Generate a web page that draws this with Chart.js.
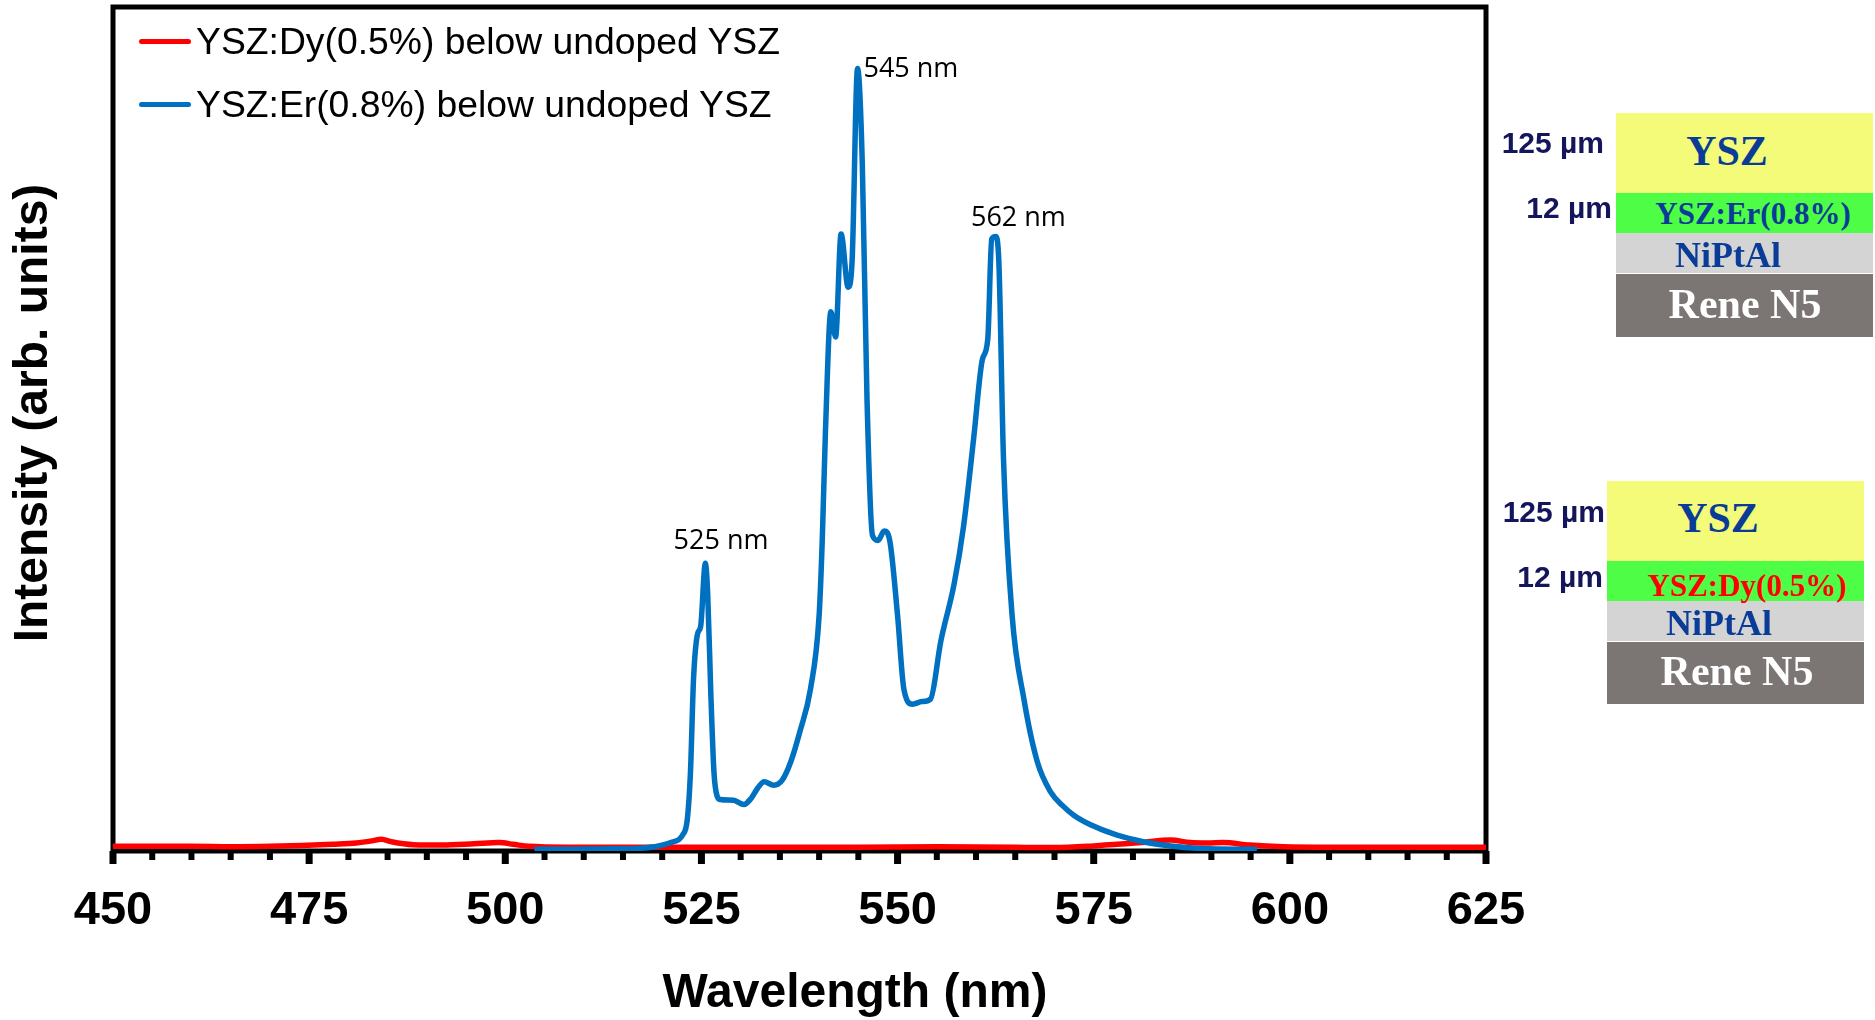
<!DOCTYPE html>
<html>
<head>
<meta charset="utf-8">
<title>YSZ luminescence spectra</title>
<script src="https://cdn.jsdelivr.net/npm/chart.js@4.4.1/dist/chart.umd.min.js"></script>
<style>
    body { margin: 0; background: #fff; }
    #wrap { position: relative; width: 1875px; height: 1020px; overflow: hidden; }
    #wrap canvas { position: absolute; left: 0; top: 0; }
    .legend-row {
        position: absolute; left: 139px; height: 40px;
        display: flex; align-items: center;
        font: 37.3px "Liberation Sans", Arial, sans-serif; color: #000;
        white-space: nowrap;
    }
    .legend-line { width: 52px; height: 5px; border-radius: 3px; margin-right: 5px; }
    .box { position: absolute; }
    .c, .r {
        position: absolute; white-space: nowrap; line-height: 1;
        font-family: "Liberation Serif", "Times New Roman", serif; font-weight: bold;
    }
    .c { transform: translate(-50%, -50%); }
    .r { transform: translate(-100%, -50%); font-family: "Liberation Sans", Arial, sans-serif; font-size: 30px; color: #15155c; }
    .blue { color: #0a3b96; }
</style>
</head>
<body>
<div id="wrap">
    <canvas id="spectrum" width="1875" height="1020"></canvas>

    <!-- legend is filled in from the datasets -->
    <div id="legend"></div>

    <!-- coating stack, Er doped -->
    <div class="box" style="left:1616px; top:113px; width:257px; height:80px; background:#f3fb78;"></div>
    <div class="box" style="left:1616px; top:193px; width:257px; height:40px; background:#4dfd46;"></div>
    <div class="box" style="left:1616px; top:233px; width:257px; height:40px; background:#d4d4d4;"></div>
    <div class="box" style="left:1616px; top:274px; width:257px; height:63px; background:#7b7574;"></div>
    <div class="c blue" style="left:1727px; top:151px; font-size:42px;">YSZ</div>
    <div class="c blue" style="left:1753px; top:213px; font-size:31px;">YSZ:Er(0.8%)</div>
    <div class="c blue" style="left:1728px; top:255px; font-size:36px;">NiPtAl</div>
    <div class="c" style="left:1745px; top:304px; font-size:42px; color:#fff;">Rene N5</div>
    <div class="r" style="left:1604px; top:143px;">125 µm</div>
    <div class="r" style="left:1612px; top:208px;">12 µm</div>

    <!-- coating stack, Dy doped -->
    <div class="box" style="left:1607px; top:481px; width:257px; height:80px; background:#f3fb78;"></div>
    <div class="box" style="left:1607px; top:561px; width:257px; height:40px; background:#4dfd46;"></div>
    <div class="box" style="left:1607px; top:601px; width:257px; height:40px; background:#d4d4d4;"></div>
    <div class="box" style="left:1607px; top:642px; width:257px; height:62px; background:#7b7574;"></div>
    <div class="c blue" style="left:1718px; top:518px; font-size:42px;">YSZ</div>
    <div class="c" style="left:1747px; top:585px; font-size:31px; color:#ff0000;">YSZ:Dy(0.5%)</div>
    <div class="c blue" style="left:1719px; top:623px; font-size:36px;">NiPtAl</div>
    <div class="c" style="left:1737px; top:671px; font-size:42px; color:#fff;">Rene N5</div>
    <div class="r" style="left:1605px; top:512px;">125 µm</div>
    <div class="r" style="left:1603px; top:577px;">12 µm</div>
</div>

<script>
// Series data (wavelength in nm, intensity in arb. units, 100 = top of frame)
const dyLabel = 'YSZ:Dy(0.5%) below undoped YSZ';
const dyWavelength = [450, 455, 460, 465, 470, 474, 478, 481, 483, 484.2, 485.5, 488.3, 492, 496, 499.2, 501, 503,
    508, 515, 525, 535, 545, 555, 565, 570, 575, 578, 581, 584.8, 587.3, 589.5, 591.5, 594.9, 599.2, 605, 615, 625];
const dyIntensity = [0.55, 0.55, 0.55, 0.5, 0.55, 0.65, 0.8, 0.95, 1.2, 1.4, 1.1, 0.75, 0.7, 0.85, 1.0, 0.8, 0.55,
    0.45, 0.45, 0.45, 0.45, 0.45, 0.5, 0.45, 0.4, 0.6, 0.8, 1.0, 1.3, 1.0, 0.95, 1.0, 0.7, 0.5, 0.45, 0.45, 0.45];

const erLabel = 'YSZ:Er(0.8%) below undoped YSZ';
const erWavelength = [503.7, 508, 512, 516.7, 519, 521.1, 522.6, 523.2, 523.6, 524.0, 524.5, 524.9, 525.5, 525.8,
    526.2, 526.6, 527.0, 527.4, 529.1, 530.4, 531.3, 532.2, 533.0, 534.2, 535.3, 536.4, 537.6, 538.9, 540.0,
    540.4, 540.8, 541.5, 542.1, 542.8, 543.7, 544.2, 544.9, 545.5, 546.1, 546.8, 547.5, 548.3, 549.0, 550.0,
    550.8, 551.9, 553.1, 554.2, 555.5, 557.2, 558.4, 559.7, 560.8, 561.5, 562.0, 562.5, 562.9, 563.5, 564.6,
    566.1, 567.8, 569.5, 571.0, 572.5, 574.6, 577.9, 581.3, 584.8, 588.6, 595.8];
const erIntensity = [0.2, 0.2, 0.25, 0.3, 0.5, 1.0, 1.9, 3.75, 9.3, 20.5, 25.7, 26.6, 34.1, 30.4,
    18.6, 9.3, 6.5, 6.1, 6.0, 5.5, 6.2, 7.5, 8.2, 7.8, 8.4, 10.6, 14.3, 19.2, 27.9,
    36.8, 49.5, 63.9, 60.9, 73.1, 66.8, 69.8, 92.7, 81.6, 53.7, 37.4, 36.8, 37.9, 36.8, 27.9,
    19.2, 17.4, 17.7, 18.0, 24.8, 31.6, 38.4, 48.9, 58.2, 60.7, 72.5, 72.8, 70.0, 46.5, 27.9,
    18.0, 10.6, 7.0, 5.4, 4.2, 3.1, 1.9, 1.1, 0.6, 0.3, 0.2];

// Peak annotations (data coordinates of the label centre)
const peakText = ['525 nm', '545 nm', '562 nm'];
const peakTextX = [527.5, 551.7, 565.4];
const peakTextY = [36.7, 92.6, 75.0];

const xMin = 450;
const xMax = 625;
const xMajorStep = 25;
const xMinorStep = 5;

const toPoints = (xs, ys) => xs.map((x, i) => ({ x: x, y: ys[i] }));

const sansBold = '"Liberation Sans", Arial, sans-serif';

// frame, tick marks, peak labels and axis titles
const extras = {
    id: 'extras',
    beforeDatasetsDraw(chart) {
        const { ctx, chartArea: a } = chart;
        const xs = chart.scales.x;
        ctx.save();
        ctx.strokeStyle = '#000';
        ctx.lineWidth = 5;
        ctx.strokeRect(a.left, a.top, a.right - a.left, a.bottom - a.top);
        ctx.fillStyle = '#000';
        for (let v = xMin; v <= xMax; v += xMinorStep) {
            const px = xs.getPixelForValue(v);
            const major = (v - xMin) % xMajorStep === 0;
            const w = major ? 7 : 6;
            const len = major ? 13 : 9;
            ctx.fillRect(px - w / 2, a.bottom, w, len);
        }
        ctx.restore();
    },
    afterDraw(chart) {
        const { ctx } = chart;
        const xs = chart.scales.x;
        const ys = chart.scales.y;
        ctx.save();
        ctx.fillStyle = '#000';
        ctx.textAlign = 'center';
        ctx.textBaseline = 'middle';
        ctx.font = '27px "Open Sans", "DejaVu Sans", sans-serif';
        peakText.forEach((t, i) => {
            ctx.fillText(t, xs.getPixelForValue(peakTextX[i]), ys.getPixelForValue(peakTextY[i]));
        });
        ctx.font = 'bold 48px ' + sansBold;
        ctx.fillText('Wavelength (nm)', 855, 994);
        ctx.translate(34, 413);
        ctx.rotate(-Math.PI / 2);
        ctx.fillText('Intensity (arb. units)', 0, 0);
        ctx.restore();
    }
};

const spectrumChart = new Chart(document.getElementById('spectrum'), {
    type: 'line',
    data: {
        datasets: [{
            label: dyLabel,
            data: toPoints(dyWavelength, dyIntensity),
            borderColor: '#ff0000',
            backgroundColor: '#ff0000',
            borderWidth: 5.5,
            pointRadius: 0,
            cubicInterpolationMode: 'monotone',
            order: 2
        }, {
            label: erLabel,
            data: toPoints(erWavelength, erIntensity),
            borderColor: '#0070c0',
            backgroundColor: '#0070c0',
            borderWidth: 5.5,
            pointRadius: 0,
            cubicInterpolationMode: 'monotone',
            order: 1
        }]
    },
    options: {
        responsive: false,
        animation: false,
        layout: {
            padding: { top: 7, right: 389, left: 0, bottom: 0 }
        },
        plugins: {
            legend: { display: false },
            tooltip: { enabled: false }
        },
        scales: {
            x: {
                type: 'linear',
                min: xMin,
                max: xMax,
                grid: { display: false, drawTicks: false },
                border: { display: false },
                ticks: {
                    stepSize: xMajorStep,
                    autoSkip: false,
                    maxRotation: 0,
                    padding: 32,
                    color: '#000',
                    font: { family: sansBold, size: 47, weight: 'bold' }
                },
                afterFit(scale) { scale.height = 169; }
            },
            y: {
                min: 0,
                max: 100,
                grid: { display: false, drawTicks: false },
                border: { display: false },
                ticks: { display: false },
                afterFit(scale) { scale.width = 113; }
            }
        }
    },
    plugins: [extras]
});

// Legend built from the datasets
const legendBox = document.getElementById('legend');
spectrumChart.data.datasets.forEach((ds, i) => {
    const row = document.createElement('div');
    row.className = 'legend-row';
    row.style.top = (21 + i * 63) + 'px';
    const line = document.createElement('span');
    line.className = 'legend-line';
    line.style.background = ds.borderColor;
    const text = document.createElement('span');
    text.textContent = ds.label;
    row.appendChild(line);
    row.appendChild(text);
    legendBox.appendChild(row);
});
</script>
</body>
</html>
